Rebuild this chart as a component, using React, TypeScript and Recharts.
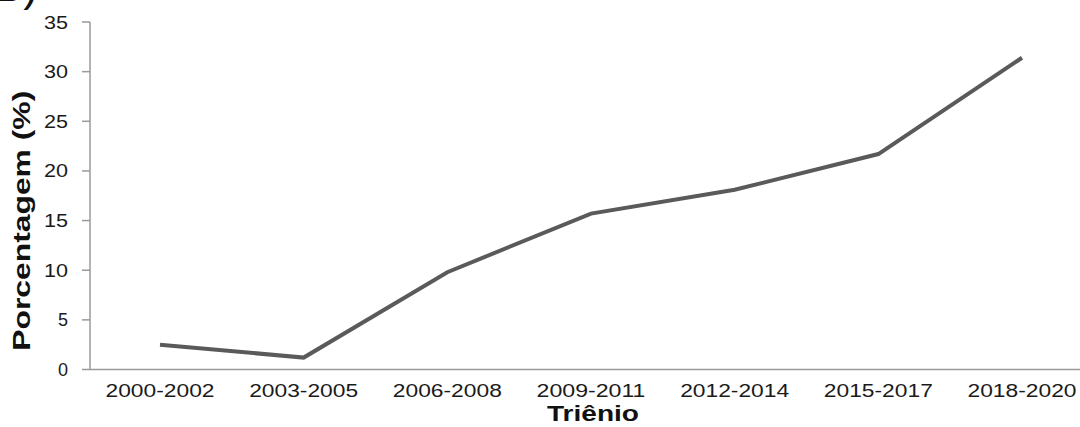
import React from 'react';
import { LineChart, Line, XAxis, YAxis, Label } from 'recharts';

const categories = ['2000-2002', '2003-2005', '2006-2008', '2009-2011', '2012-2014', '2015-2017', '2018-2020'];
const percentages = [2.5, 1.2, 9.8, 15.7, 18.1, 21.7, 31.4];
const yTicks = [0, 5, 10, 15, 20, 25, 30, 35];
const xTitle = 'Triênio';
const yTitle = 'Porcentagem (%)';
const panelTag = 'B)';

const data = categories.map((c, i) => ({ name: c, value: percentages[i] }));

const FONT = '"Liberation Sans", Arial, sans-serif';

const XTick = (props: any) => {
  const { x, y, payload } = props;
  return (
    <text x={x} y={y + 27} textAnchor="middle" fontFamily={FONT} fontSize={18} fill="#1a1a1a"
      textLength={109} lengthAdjust="spacingAndGlyphs">
      {payload.value}
    </text>
  );
};

const YTick = (props: any) => {
  const { x, y, payload } = props;
  const s = String(payload.value);
  const extra: any = s.length > 1 ? { textLength: 24, lengthAdjust: 'spacingAndGlyphs' } : {};
  return (
    <text x={x} y={y + 6.5} textAnchor="end" fontFamily={FONT} fontSize={18} fill="#1a1a1a" {...extra}>
      {s}
    </text>
  );
};

const YTitle = (props: any) => {
  const { viewBox } = props;
  const cx = viewBox.x + 30;
  const cy = viewBox.y + viewBox.height / 2 + 25;
  return (
    <text x={cx} y={cy} transform={`rotate(-90, ${cx}, ${cy})`} textAnchor="middle" fontFamily={FONT}
      fontWeight="bold" fontSize={23} fill="#111" textLength={260} lengthAdjust="spacingAndGlyphs">
      {yTitle}
    </text>
  );
};

const XTitle = (props: any) => {
  const { viewBox } = props;
  const cx = viewBox.x + viewBox.width / 2;
  const cy = viewBox.y + 51.5;
  return (
    <text x={cx} y={cy} textAnchor="middle" fontFamily={FONT} fontWeight="bold" fontSize={22} fill="#111"
      textLength={92} lengthAdjust="spacingAndGlyphs">
      {xTitle}
    </text>
  );
};

export default function App() {
  return (
    <div style={{ position: 'fixed', left: 0, top: 0, width: 1080, height: 427, overflow: 'hidden', background: '#fff' }}>
      <svg width={60} height={20} style={{ position: 'absolute', left: 0, top: 0, zIndex: 2 }}>
        <text x={38} y={1} textAnchor="end" fontFamily={FONT} fontSize={44} fill="#111">{panelTag}</text>
      </svg>
      <LineChart width={1100} height={427} data={data} margin={{ top: 22, right: 4, bottom: 0, left: 0 }}>
        <XAxis dataKey="name" height={57.5} padding={{ left: 70, right: 74 }} tickLine={false} tickSize={0}
          tickMargin={0} stroke="#9a9a9a" strokeWidth={1.5} tick={<XTick />} interval={0}>
          <Label content={<XTitle />} />
        </XAxis>
        <YAxis width={90} domain={[0, 35]} ticks={yTicks} tickSize={8} tickMargin={14} stroke="#9a9a9a"
          strokeWidth={1.5} tick={<YTick />} interval={0}>
          <Label content={<YTitle />} />
        </YAxis>
        <Line type="linear" dataKey="value" stroke="#5a5a5a" strokeWidth={4} dot={false} isAnimationActive={false} />
      </LineChart>
    </div>
  );
}
